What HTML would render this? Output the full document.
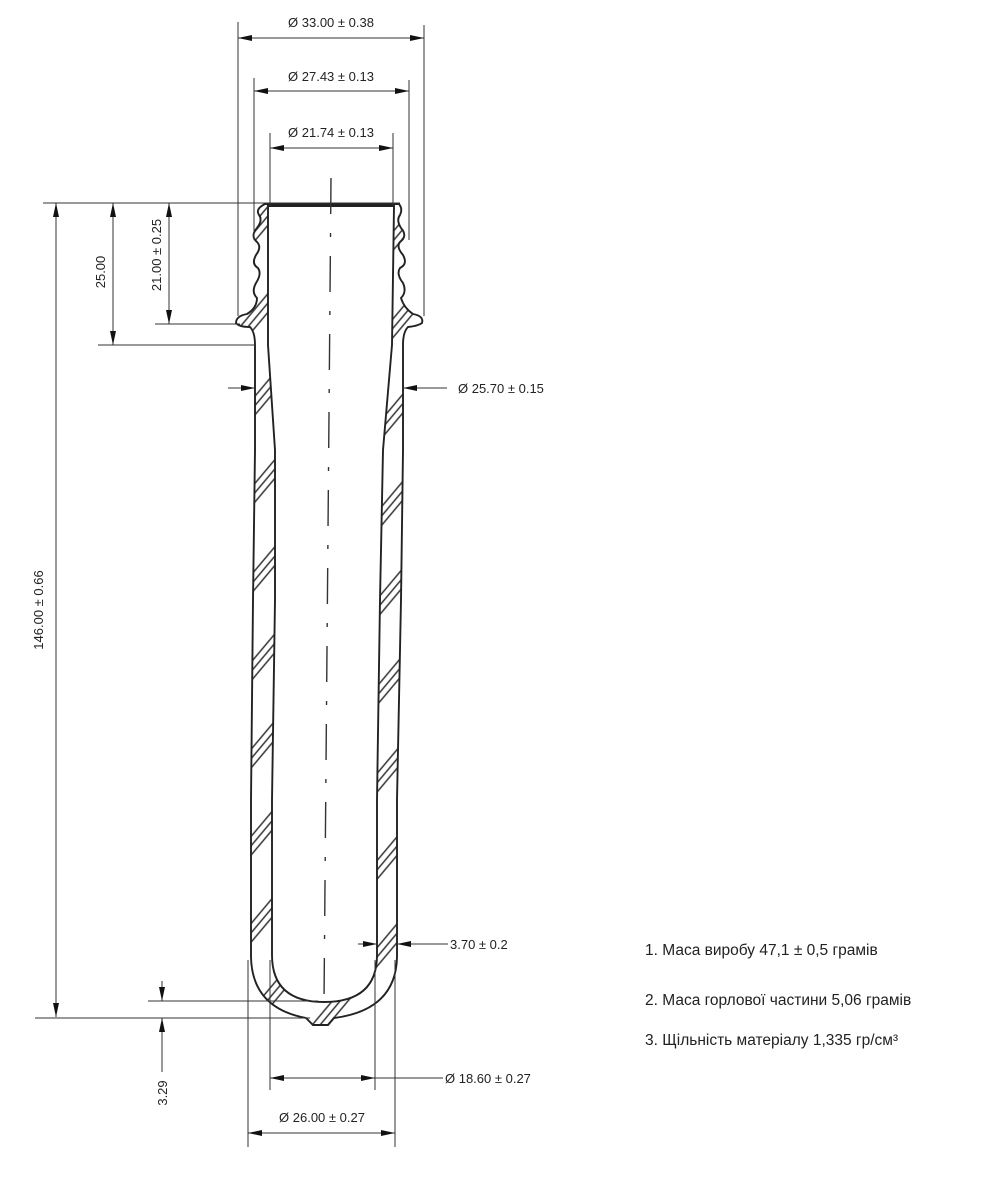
<!DOCTYPE html>
<html><head><meta charset="utf-8"><style>
html,body{margin:0;padding:0;background:#fff;}
svg{display:block}
text{font-family:"Liberation Sans",sans-serif;fill:#222;}
</style></head><body>
<svg width="992" height="1181" viewBox="0 0 992 1181" xmlns="http://www.w3.org/2000/svg">
<defs>
<pattern id="h" patternUnits="userSpaceOnUse" width="8" height="56" patternTransform="rotate(-50)">
<line x1="0" y1="2" x2="8" y2="2" stroke="#333" stroke-width="1.5"/>
<line x1="0" y1="8" x2="8" y2="8" stroke="#333" stroke-width="1.5"/>
<line x1="0" y1="14" x2="8" y2="14" stroke="#333" stroke-width="1.5"/>
</pattern>
<marker id="a" viewBox="0 0 14 6" refX="14" refY="3" markerWidth="14" markerHeight="6" markerUnits="userSpaceOnUse" orient="auto-start-reverse"><path d="M0,0 L14,3 L0,6 Z" fill="#111"/></marker>
</defs>

<path fill="url(#h)" fill-rule="evenodd" stroke="#222" stroke-width="1.9" d="
M265,204 L399,204 Q403,209 400,215 Q396,220 401,228 Q408,236 400,242 Q396,247 403,255 Q408,264 400,268 Q396,274 403,283 Q407,292 401,298 Q404,308 413,314 Q424,316 422,323 Q418,326 408,327 Q403,332 403,345 L403,450 L401,600 L397,800 L397,957 Q396,1010 334,1018 L328,1025 L313,1025 L306,1018 Q252,1008 251,957 L251,800 L253,600 L255,450 L255,345 Q255,332 250,327 Q239,327 236,323 Q236,316 247,314 Q257,308 257,298 Q251,292 256,283 Q262,274 258,268 Q251,264 256,255 Q262,247 257,242 Q250,236 257,228 Q263,220 259,215 Q255,209 265,204 Z
M268,206 L394,206 L392,345 L383,450 L380,600 L377,800 L377,955 Q377,1002 324,1002 Q272,1002 272,955 L272,800 L275,600 L275,450 L268,345 Z"/>

<line x1="331" y1="178" x2="324" y2="1002" stroke="#333" stroke-width="1.4" stroke-dasharray="36,19,4,19"/>

<g stroke="#333" stroke-width="1" fill="none">
<line x1="238" y1="22" x2="238" y2="316"/><line x1="424" y1="25" x2="424" y2="316"/>
<line x1="238" y1="38" x2="424" y2="38" marker-start="url(#a)" marker-end="url(#a)"/>
<line x1="254" y1="78" x2="254" y2="240"/><line x1="409" y1="80" x2="409" y2="240"/>
<line x1="254" y1="91" x2="409" y2="91" marker-start="url(#a)" marker-end="url(#a)"/>
<line x1="270" y1="133" x2="270" y2="206"/><line x1="393" y1="133" x2="393" y2="206"/>
<line x1="270" y1="148" x2="393" y2="148" marker-start="url(#a)" marker-end="url(#a)"/>
<line x1="43" y1="203" x2="400" y2="203"/>
<line x1="155" y1="324" x2="240" y2="324"/>
<line x1="98" y1="345" x2="256" y2="345"/>
<line x1="56" y1="203" x2="56" y2="1017" marker-start="url(#a)" marker-end="url(#a)"/>
<line x1="113" y1="203" x2="113" y2="345" marker-start="url(#a)" marker-end="url(#a)"/>
<line x1="169" y1="203" x2="169" y2="324" marker-start="url(#a)" marker-end="url(#a)"/>
<line x1="148" y1="1001" x2="318" y2="1001"/>
<line x1="35" y1="1018" x2="310" y2="1018"/>
<line x1="162" y1="981" x2="162" y2="1001" marker-end="url(#a)"/>
<line x1="162" y1="1072" x2="162" y2="1018" marker-end="url(#a)"/>
<line x1="228" y1="388" x2="255" y2="388" marker-end="url(#a)"/>
<line x1="447" y1="388" x2="403" y2="388" marker-end="url(#a)"/>
<line x1="358" y1="944" x2="377" y2="944" marker-end="url(#a)"/>
<line x1="448" y1="944" x2="397" y2="944" marker-end="url(#a)"/>
<line x1="270" y1="960" x2="270" y2="1090"/><line x1="375" y1="960" x2="375" y2="1090"/>
<line x1="248" y1="960" x2="248" y2="1147"/><line x1="395" y1="960" x2="395" y2="1147"/>
<line x1="270" y1="1078" x2="375" y2="1078" marker-start="url(#a)" marker-end="url(#a)"/>
<line x1="375" y1="1078" x2="443" y2="1078"/>
<line x1="248" y1="1133" x2="395" y2="1133" marker-start="url(#a)" marker-end="url(#a)"/>
</g>

<g font-size="13">
<text x="331" y="27" text-anchor="middle">Ø 33.00 ± 0.38</text>
<text x="331" y="81" text-anchor="middle">Ø 27.43 ± 0.13</text>
<text x="331" y="137" text-anchor="middle">Ø 21.74 ± 0.13</text>
<text x="458" y="393">Ø 25.70 ± 0.15</text>
<text x="450" y="949">3.70 ± 0.2</text>
<text x="445" y="1083">Ø 18.60 ± 0.27</text>
<text x="322" y="1122" text-anchor="middle">Ø 26.00 ± 0.27</text>
<text transform="translate(105,272) rotate(-90)" text-anchor="middle">25.00</text>
<text transform="translate(161,255) rotate(-90)" text-anchor="middle">21.00 ± 0.25</text>
<text transform="translate(43,610) rotate(-90)" text-anchor="middle">146.00 ± 0.66</text>
<text transform="translate(167,1093) rotate(-90)" text-anchor="middle">3.29</text>
</g>
<g font-size="15.5">
<text x="645" y="955">1. Маса виробу 47,1 ± 0,5 грамів</text>
<text x="645" y="1005">2. Маса горлової частини 5,06 грамів</text>
<text x="645" y="1045">3. Щільність матеріалу 1,335 гр/см³</text>
</g>
</svg>
</body></html>
